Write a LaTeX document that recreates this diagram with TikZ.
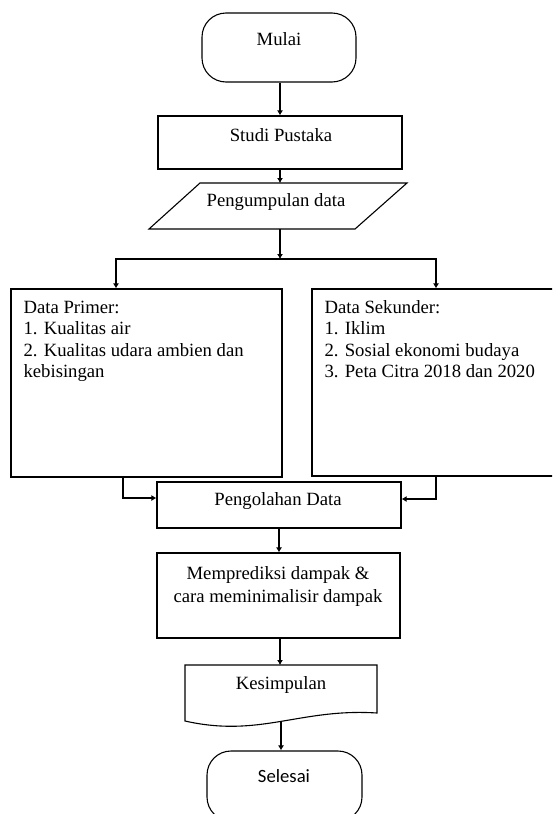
\documentclass[tikz,border=0pt]{standalone}
\usepackage{fontspec}
\setmainfont{Liberation Serif}
\newfontfamily\calfont{Carlito}
\usetikzlibrary{arrows.meta}
\begin{document}
\begin{tikzpicture}[x=1pt,y=-1pt,line width=1.1pt,
  box/.style={draw,rectangle,inner sep=0pt},
  term/.style={draw,rectangle,rounded corners=24pt,inner sep=0pt},
  arr/.style={-{Latex[length=5pt,width=6pt]}},
  lbl/.style={font=\fontsize{18.7}{21.4}\selectfont,inner sep=0pt,anchor=base},
  list/.style={font=\fontsize{18.7}{21.4}\selectfont,inner sep=0pt,anchor=north west,align=left}]
\useasboundingbox (0,0) rectangle (552,814);
\clip (0,0) rectangle (552,814);

% shapes
\node[term,minimum width=154pt,minimum height=69pt] (mulai) at (279,47.5) {};
\node[box,minimum width=244pt,minimum height=53pt] (studi) at (280,142.5) {};
\coordinate (pgtop) at (280,183);
\coordinate (pgbot) at (280,229);
\draw (200,183) -- (407,183) -- (355,229) -- (149,229) -- cycle;
\node[box,minimum width=271pt,minimum height=188pt] (primer) at (146.5,383) {};
\node[box,minimum width=244pt,minimum height=187pt] (sekunder) at (434,382.5) {};
\node[box,minimum width=244pt,minimum height=46pt] (olah) at (279,505) {};
\node[box,minimum width=243pt,minimum height=85pt] (pred) at (278.5,595.5) {};
\coordinate (kstop) at (280,665);
\coordinate (ksbot) at (281,722);
\draw (185,665) -- (377,665) -- (377,713) .. controls (300,708) and (260,738) .. (185,721) -- cycle;
\node[term,minimum width=155pt,minimum height=70pt] (selesai) at (284.5,786) {};

% texts
\node[lbl] (tmulai) at (279,45) {Mulai};
\node[lbl] (tstudi) at (281,141.5) {Studi Pustaka};
\node[lbl] (tpeng) at (276,206.7) {Pengumpulan data};
\node[list] (tprimer) at (23,298) {\strut Data Primer:\\1. Kualitas air\\2. Kualitas udara ambien dan\\kebisingan};
\node[list] (tsekunder) at (324,298) {\strut Data Sekunder:\\1. Iklim\\2. Sosial ekonomi budaya\\3. Peta Citra 2018 dan 2020};
\node[lbl] (tolah) at (278,505.7) {Pengolahan Data};
\node[list,anchor=north,align=center,font=\fontsize{18.7}{22.7}\selectfont] (tpred) at (278,563.1) {\strut Memprediksi dampak \&\\cara meminimalisir dampak};
\node[lbl] (tkes) at (281,689.3) {Kesimpulan};
\node[lbl,font=\calfont\fontsize{18.7}{21.4}\selectfont] (tsel) at (284,782.7) {Selesai};

% connectors
\coordinate (split) at (280,259);
\coordinate (jl) at (116,259);
\coordinate (jr) at (436,259);
\coordinate (ol) at (123,498);
\coordinate (or) at (436,499);
\draw[arr] (mulai.south -| studi.north) -- (studi.north);
\draw[arr] (studi.south) -- (pgtop);
\draw[arr] (pgbot) -- (split);
\draw[arr] (split) -- (jl) -- (jl |- primer.north);
\draw[arr] (split) -- (jr) -- (jr |- sekunder.north);
\draw[arr] (primer.south -| ol) -- (ol) -- (ol -| olah.west);
\draw[arr] (sekunder.south -| or) -- (or) -- (or -| olah.east);
\draw[arr] (olah.south) -- (olah.south |- pred.north);
\draw[arr] (pred.south -| kstop) -- (kstop);
\draw[arr] (ksbot) -- (ksbot |- selesai.north);
\end{tikzpicture}
\end{document}
